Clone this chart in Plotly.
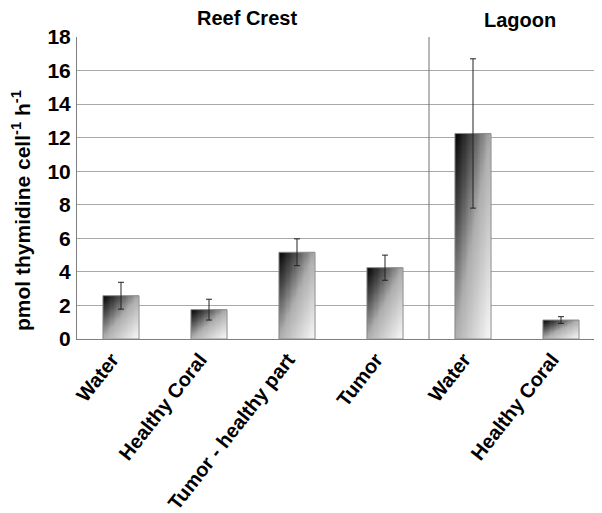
import numpy as np
import plotly.graph_objects as go

categories = ["Water", "Healthy Coral", "Tumor - healthy part", "Tumor", "Water", "Healthy Coral"]
values = [2.58, 1.75, 5.17, 4.25, 12.25, 1.13]
errors = [0.80, 0.62, 0.80, 0.75, 4.45, 0.20]
y_ticks = [0, 2, 4, 6, 8, 10, 12, 14, 16, 18]
group_labels = ["Reef Crest", "Lagoon"]

BAR_W = 0.41
FONT = "Liberation Sans, Arial, sans-serif"

# page body has an 8px margin, so the figure is offset by (8, 8) in the window
OFF = 8
L, T = 77 - OFF, 37 - OFF
W, H = 602 - OFF, 513 - OFF
PW, PH = W - L, 339 - 37

fig = go.Figure()

nx, ny = 30, 80
for i, v in enumerate(values):
    xe = np.linspace(i - BAR_W / 2, i + BAR_W / 2, nx + 1)
    ye = np.linspace(0, v, ny + 1)
    u = (np.arange(nx) + 0.5) / nx
    t = 1 - (np.arange(ny) + 0.5) / ny
    z = (u[None, :] + t[:, None]) / 2
    fig.add_trace(go.Heatmap(
        x=xe, y=ye, z=z, zmin=0, zmax=1,
        colorscale=[[0, "#000000"], [0.25, "#505050"], [0.5, "#adadad"], [1, "#fafafa"]],
        showscale=False, hoverinfo="skip", zsmooth=False,
    ))

fig.add_trace(go.Bar(
    x=list(range(len(values))), y=values, width=BAR_W,
    marker=dict(color="rgba(0,0,0,0)", line=dict(color="#8c8c8c", width=1)),
    error_y=dict(type="data", array=errors, color="#222222", thickness=1, width=3),
    hoverinfo="skip",
))

fig.add_shape(type="line", xref="x", yref="y", x0=3.5, x1=3.5, y0=0, y1=18,
              line=dict(color="#707070", width=1))

def px_x(x):
    return (x - 77) / PW

def px_y(y):
    return (339 - y) / PH

fig.add_annotation(text="<b>" + group_labels[0] + "</b>", xref="paper", yref="paper",
                   x=px_x(247), y=px_y(18), xanchor="center", yanchor="middle", showarrow=False,
                   font=dict(family=FONT, size=20, color="black"))
fig.add_annotation(text="<b>" + group_labels[1] + "</b>", xref="paper", yref="paper",
                   x=px_x(520), y=px_y(20), xanchor="center", yanchor="middle", showarrow=False,
                   font=dict(family=FONT, size=20, color="black"))
fig.add_annotation(text="<b>pmol thymidine cell<sup>-1</sup> h<sup>-1</sup></b>",
                   xref="paper", yref="paper", x=px_x(21), y=px_y(211),
                   xanchor="center", yanchor="middle",
                   textangle=-90, showarrow=False,
                   font=dict(family=FONT, size=21, color="black"))

fig.update_layout(
    width=W, height=H,
    margin=dict(l=L, r=0, t=T, b=H - (339 - OFF), autoexpand=False),
    plot_bgcolor="white", paper_bgcolor="white",
    showlegend=False,
    font=dict(family=FONT, color="black"),
    xaxis=dict(
        range=[-0.5, -0.5 + PW / 88.0], tickmode="array", tickvals=list(range(len(categories))),
        ticktext=["<b>" + c + "</b>" for c in categories], tickangle=-52,
        tickfont=dict(size=20, family=FONT, color="black"),
        showgrid=False, zeroline=False, showline=True, linecolor="#808080", linewidth=1,
        ticks="", automargin=False, ticklabelshift=-9,
    ),
    yaxis=dict(
        range=[0, 18], tickmode="array", tickvals=y_ticks,
        ticktext=["<b>%d</b>" % t for t in y_ticks],
        tickfont=dict(size=21, family=FONT, color="black"),
        showgrid=True, gridcolor="#a8a8a8", gridwidth=1,
        zeroline=False, showline=True, linecolor="#808080", linewidth=1,
        ticks="", ticklabelstandoff=1, automargin=False,
    ),
)

fig.write_html("out.html")
